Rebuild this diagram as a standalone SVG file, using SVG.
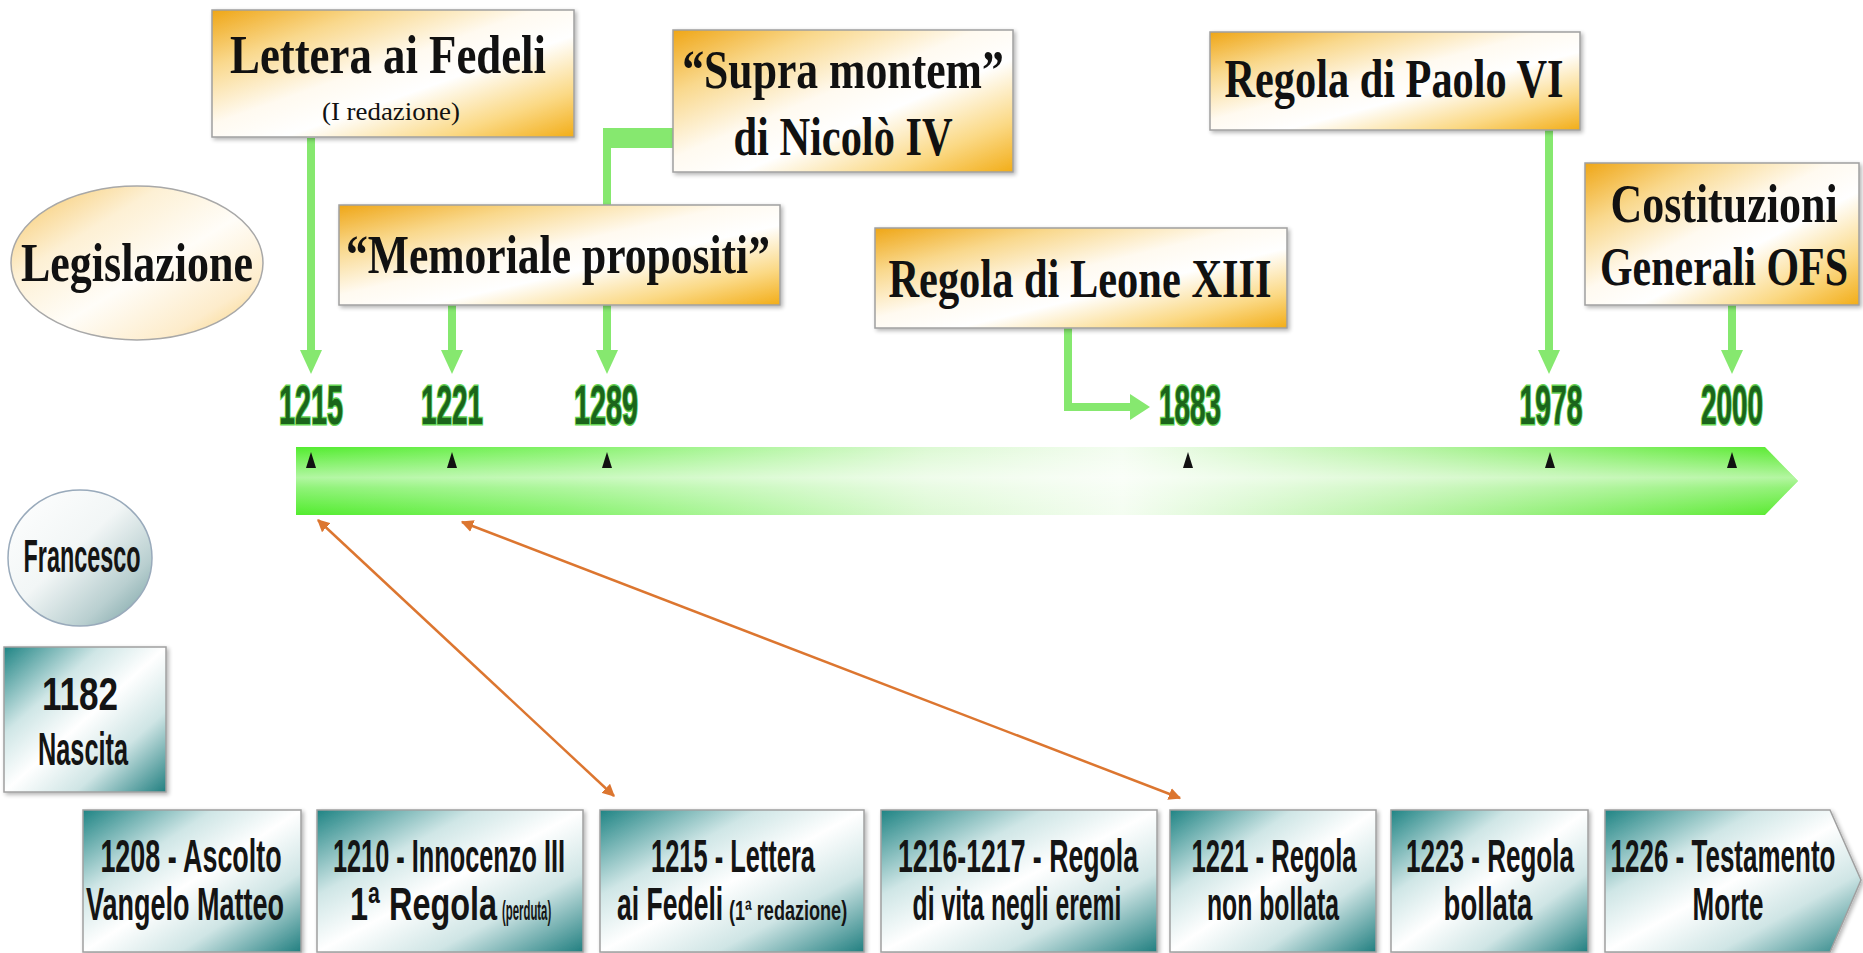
<svg xmlns="http://www.w3.org/2000/svg" width="1863" height="953" viewBox="0 0 1863 953">
<style>
.title{font-family:"Liberation Serif","Times New Roman",serif;font-weight:bold;font-size:54px;fill:#111;text-anchor:middle}
.sub{font-family:"Liberation Serif","Times New Roman",serif;font-size:26px;fill:#111;text-anchor:middle}
.year{font-family:"Liberation Sans",Arial,sans-serif;font-weight:bold;font-size:56px;fill:#1b651b;stroke:#63d452;stroke-width:3;paint-order:stroke;text-anchor:middle}
.bt{font-family:"Liberation Sans",Arial,sans-serif;font-weight:bold;font-size:46px;fill:#141414;text-anchor:middle}
.bl{font-family:"Liberation Sans",Arial,sans-serif;font-weight:bold;font-size:46px;fill:#141414}
.bs{font-family:"Liberation Sans",Arial,sans-serif;font-weight:bold;font-size:28px;fill:#141414}
.ybox{fill:url(#gold);stroke:#a0a0a0;stroke-width:1.5;filter:url(#sh)}
.tbox{fill:url(#teal);stroke:#a0a0a0;stroke-width:1.5;filter:url(#sh)}
.gl{stroke:#86e86f;stroke-width:8;fill:none}
.gh{fill:#86e86f}
.or{stroke:#dc7630;stroke-width:2.5;fill:none;marker-start:url(#oh);marker-end:url(#oh)}
.tick{fill:#111}
</style>
<defs>
<linearGradient id="gold" x1="0" y1="0" x2="1" y2="1">
<stop offset="0" stop-color="#efa616"/>
<stop offset="0.22" stop-color="#f9d88c"/>
<stop offset="0.45" stop-color="#fffaf0"/>
<stop offset="0.6" stop-color="#ffffff"/>
<stop offset="0.82" stop-color="#fbd985"/>
<stop offset="1" stop-color="#f2ad18"/>
</linearGradient>
<linearGradient id="teal" x1="0" y1="0" x2="1" y2="1">
<stop offset="0" stop-color="#1f8484"/>
<stop offset="0.3" stop-color="#cfe6e6"/>
<stop offset="0.5" stop-color="#ffffff"/>
<stop offset="0.72" stop-color="#cfe5e5"/>
<stop offset="1" stop-color="#217f80"/>
</linearGradient>
<linearGradient id="cream" x1="0" y1="0" x2="1" y2="1">
<stop offset="0" stop-color="#f6c45e"/>
<stop offset="0.3" stop-color="#fdf0d4"/>
<stop offset="0.55" stop-color="#fffdf8"/>
<stop offset="0.8" stop-color="#fdeccb"/>
<stop offset="1" stop-color="#f7cd70"/>
</linearGradient>
<linearGradient id="silver" x1="0" y1="0" x2="1" y2="1">
<stop offset="0" stop-color="#ffffff"/>
<stop offset="0.45" stop-color="#f2f6f6"/>
<stop offset="0.75" stop-color="#b9cfd0"/>
<stop offset="1" stop-color="#6f9c9e"/>
</linearGradient>
<linearGradient id="barh" x1="0" y1="0" x2="1" y2="0">
<stop offset="0" stop-color="#52ec2e"/>
<stop offset="0.18" stop-color="#84f26a"/>
<stop offset="0.42" stop-color="#dcf9d3"/>
<stop offset="0.55" stop-color="#f4fdf1"/>
<stop offset="0.75" stop-color="#b3f3a0"/>
<stop offset="1" stop-color="#55ea2b"/>
</linearGradient>
<linearGradient id="barv" x1="0" y1="0" x2="0" y2="1">
<stop offset="0" stop-color="#ffffff" stop-opacity="0"/>
<stop offset="0.45" stop-color="#ffffff" stop-opacity="0.55"/>
<stop offset="0.6" stop-color="#ffffff" stop-opacity="0.35"/>
<stop offset="1" stop-color="#ffffff" stop-opacity="0"/>
</linearGradient>
<filter id="sh" x="-5%" y="-5%" width="115%" height="120%">
<feGaussianBlur in="SourceAlpha" stdDeviation="2"/>
<feOffset dx="2" dy="2" result="b"/>
<feComponentTransfer><feFuncA type="linear" slope="0.3"/></feComponentTransfer>
<feMerge><feMergeNode/><feMergeNode in="SourceGraphic"/></feMerge>
</filter>
<marker id="oh" viewBox="0 0 10 10" refX="9" refY="5" markerWidth="5" markerHeight="5" orient="auto-start-reverse">
<path d="M0,0 L10,5 L0,10 z" fill="#dc7630"/>
</marker>
</defs>
<rect width="1863" height="953" fill="#ffffff"/>

<g id="timeline">
<polygon points="296,447 1765,447 1798,481 1765,515 296,515" fill="url(#barh)"/>
<polygon points="296,447 1765,447 1798,481 1765,515 296,515" fill="url(#barv)"/>
<polygon class="tick" points="311,452 306,468 316,468"/>
<polygon class="tick" points="452,452 447,468 457,468"/>
<polygon class="tick" points="607,452 602,468 612,468"/>
<polygon class="tick" points="1188,452 1183,468 1193,468"/>
<polygon class="tick" points="1550,452 1545,468 1555,468"/>
<polygon class="tick" points="1732,452 1727,468 1737,468"/>
<text class="year" transform="translate(311,424) scale(0.5,1)" textLength="128" lengthAdjust="spacingAndGlyphs">1215</text>
<text class="year" transform="translate(452,424) scale(0.5,1)" textLength="124" lengthAdjust="spacingAndGlyphs">1221</text>
<text class="year" transform="translate(606,424) scale(0.5,1)" textLength="128" lengthAdjust="spacingAndGlyphs">1289</text>
<text class="year" transform="translate(1190,424) scale(0.5,1)" textLength="124" lengthAdjust="spacingAndGlyphs">1883</text>
<text class="year" transform="translate(1551,424) scale(0.5,1)" textLength="126" lengthAdjust="spacingAndGlyphs">1978</text>
<text class="year" transform="translate(1732,424) scale(0.5,1)" textLength="124" lengthAdjust="spacingAndGlyphs">2000</text>
</g>

<g id="connectors">
<path class="gl" d="M311 138 V352"/>
<polygon class="gh" points="300,350 322,350 311,374"/>
<path class="gl" d="M452 305 V352"/>
<polygon class="gh" points="441,350 463,350 452,374"/>
<rect class="gh" x="603" y="128" width="71" height="20"/>
<path class="gl" d="M607 128 V352"/>
<polygon class="gh" points="596,350 618,350 607,374"/>
<path class="gl" d="M1068 328 V407 H1132"/>
<polygon class="gh" points="1130,394 1130,420 1150,407"/>
<path class="gl" d="M1549 130 V352"/>
<polygon class="gh" points="1538,350 1560,350 1549,374"/>
<path class="gl" d="M1732 305 V352"/>
<polygon class="gh" points="1721,350 1743,350 1732,374"/>
<line class="or" x1="318" y1="520" x2="614" y2="796"/>
<line class="or" x1="462" y1="522" x2="1180" y2="798"/>
</g>

<g id="legislazione">
<ellipse cx="137" cy="263" rx="126" ry="77" fill="url(#cream)" stroke="#a8a8a8" stroke-width="1.5"/>
<text class="title" transform="translate(137,281) scale(0.8,1)" textLength="290" lengthAdjust="spacingAndGlyphs">Legislazione</text>
</g>

<g id="lettera">
<rect class="ybox" x="212" y="10" width="362" height="127"/>
<text class="title" transform="translate(388,73) scale(0.8,1)" textLength="395" lengthAdjust="spacingAndGlyphs">Lettera ai Fedeli</text>
<text class="sub" x="391" y="120" textLength="138" lengthAdjust="spacingAndGlyphs">(I redazione)</text>
</g>

<g id="supra">
<rect class="ybox" x="673" y="30" width="340" height="142"/>
<text class="title" transform="translate(843,88) scale(0.8,1)" textLength="402" lengthAdjust="spacingAndGlyphs">“Supra montem”</text>
<text class="title" transform="translate(843,155) scale(0.8,1)" textLength="274" lengthAdjust="spacingAndGlyphs">di Nicolò IV</text>
</g>

<g id="memoriale">
<rect class="ybox" x="339" y="205" width="441" height="100"/>
<text class="title" transform="translate(558,273) scale(0.8,1)" textLength="530" lengthAdjust="spacingAndGlyphs">“Memoriale propositi”</text>
</g>

<g id="leone">
<rect class="ybox" x="875" y="228" width="412" height="100"/>
<text class="title" transform="translate(1080,297) scale(0.8,1)" textLength="479" lengthAdjust="spacingAndGlyphs">Regola di Leone XIII</text>
</g>

<g id="paolo">
<rect class="ybox" x="1210" y="32" width="370" height="98"/>
<text class="title" transform="translate(1394,97) scale(0.8,1)" textLength="424" lengthAdjust="spacingAndGlyphs">Regola di Paolo VI</text>
</g>

<g id="costituzioni">
<rect class="ybox" x="1585" y="163" width="274" height="142"/>
<text class="title" transform="translate(1724,222) scale(0.8,1)" textLength="284" lengthAdjust="spacingAndGlyphs">Costituzioni</text>
<text class="title" transform="translate(1724,285) scale(0.8,1)" textLength="310" lengthAdjust="spacingAndGlyphs">Generali OFS</text>
</g>

<g id="francesco">
<ellipse cx="80" cy="558" rx="72" ry="68" fill="url(#silver)" stroke="#9ab" stroke-width="1.5"/>
<text class="bt" font-size="42" transform="translate(82,572) scale(0.6,1)" textLength="195" lengthAdjust="spacingAndGlyphs">Francesco</text>
</g>

<g id="nascita">
<rect class="tbox" x="4" y="647" width="162" height="145"/>
<text class="bt" transform="translate(80,710) scale(0.6,1)" textLength="127" lengthAdjust="spacingAndGlyphs">1182</text>
<text class="bt" transform="translate(83,765) scale(0.6,1)" textLength="150" lengthAdjust="spacingAndGlyphs">Nascita</text>
</g>

<g id="b1208">
<rect class="tbox" x="83" y="810" width="218" height="142"/>
<text class="bt" transform="translate(191,872) scale(0.6,1)" textLength="302" lengthAdjust="spacingAndGlyphs">1208 - Ascolto</text>
<text class="bt" transform="translate(185,920) scale(0.6,1)" textLength="330" lengthAdjust="spacingAndGlyphs">Vangelo Matteo</text>
</g>

<g id="b1210">
<rect class="tbox" x="317" y="810" width="266" height="142"/>
<text class="bt" transform="translate(449,872) scale(0.6,1)" textLength="387" lengthAdjust="spacingAndGlyphs">1210 - Innocenzo III</text>
<text class="bl" transform="translate(350,920) scale(0.6,1)" textLength="245" lengthAdjust="spacingAndGlyphs">1ª Regola</text>
<text class="bs" transform="translate(502,920) scale(0.6,1)" textLength="82" lengthAdjust="spacingAndGlyphs">(perduta)</text>
</g>

<g id="b1215">
<rect class="tbox" x="600" y="810" width="264" height="142"/>
<text class="bt" transform="translate(733,872) scale(0.6,1)" textLength="273" lengthAdjust="spacingAndGlyphs">1215 - Lettera</text>
<text class="bl" transform="translate(617,920) scale(0.6,1)" textLength="177" lengthAdjust="spacingAndGlyphs">ai Fedeli</text>
<text class="bs" transform="translate(729,920) scale(0.6,1)" textLength="197" lengthAdjust="spacingAndGlyphs">(1ª redazione)</text>
</g>

<g id="b1216">
<rect class="tbox" x="881" y="810" width="276" height="142"/>
<text class="bt" transform="translate(1018,872) scale(0.6,1)" textLength="400" lengthAdjust="spacingAndGlyphs">1216-1217 - Regola</text>
<text class="bt" transform="translate(1017,920) scale(0.6,1)" textLength="348" lengthAdjust="spacingAndGlyphs">di vita negli eremi</text>
</g>

<g id="b1221">
<rect class="tbox" x="1170" y="810" width="206" height="142"/>
<text class="bt" transform="translate(1274,872) scale(0.6,1)" textLength="275" lengthAdjust="spacingAndGlyphs">1221 - Regola</text>
<text class="bt" transform="translate(1273,920) scale(0.6,1)" textLength="220" lengthAdjust="spacingAndGlyphs">non bollata</text>
</g>

<g id="b1223">
<rect class="tbox" x="1391" y="810" width="197" height="142"/>
<text class="bt" transform="translate(1490,872) scale(0.6,1)" textLength="280" lengthAdjust="spacingAndGlyphs">1223 - Regola</text>
<text class="bt" transform="translate(1488,920) scale(0.6,1)" textLength="148" lengthAdjust="spacingAndGlyphs">bollata</text>
</g>

<g id="b1226">
<polygon class="tbox" points="1605,810 1830,810 1861,880 1830,952 1605,952"/>
<text class="bt" transform="translate(1723,872) scale(0.6,1)" textLength="375" lengthAdjust="spacingAndGlyphs">1226 - Testamento</text>
<text class="bt" transform="translate(1728,920) scale(0.6,1)" textLength="118" lengthAdjust="spacingAndGlyphs">Morte</text>
</g>
</svg>
